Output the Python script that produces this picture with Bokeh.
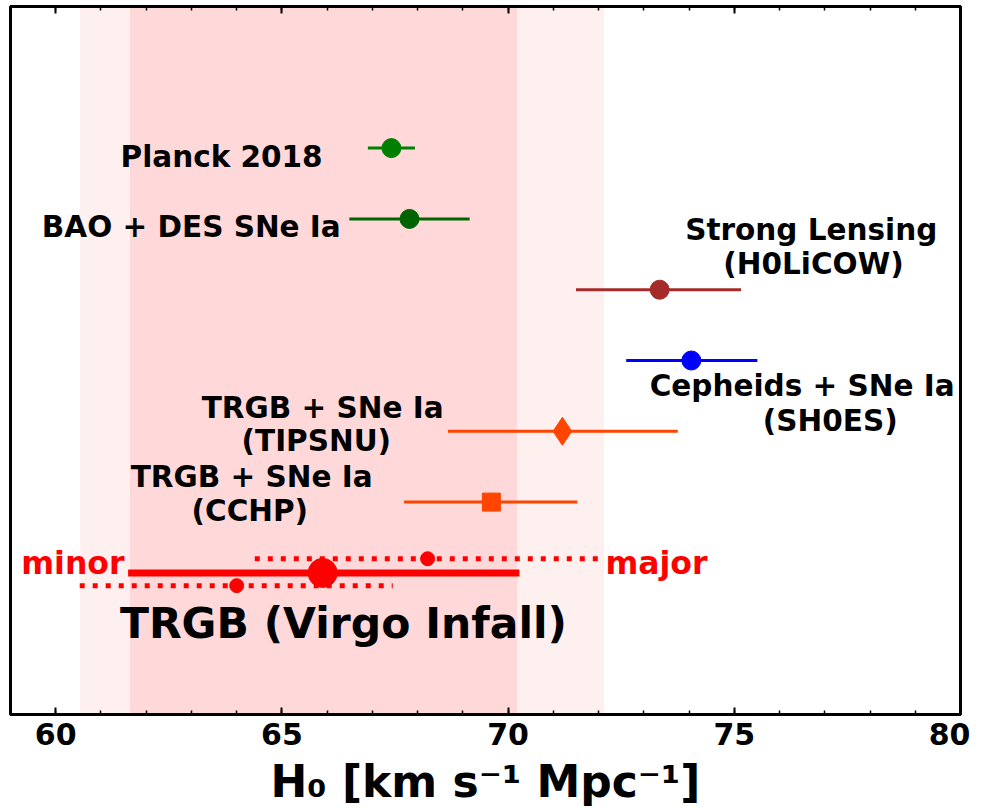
from bokeh.plotting import figure
from bokeh.models import (Range1d, LinearAxis, BoxAnnotation, SingleIntervalTicker, ColumnDataSource,
                          CustomJSTickFormatter)
from bokeh.core.properties import value
from bokeh.embed import file_html
from bokeh.resources import INLINE

FONT = "DejaVu Sans"

# ---- data ----
names = ["Planck 2018", "BAO + DES SNe Ia", "Strong Lensing (H0LiCOW)", "Cepheids + SNe Ia (SH0ES)",
         "TRGB + SNe Ia (TIPSNU)", "TRGB + SNe Ia (CCHP)", "TRGB (Virgo Infall)"]
h0 = [67.42, 67.82, 73.35, 74.05, 71.2, 69.63, 65.9]
err_lo = [0.52, 1.33, 1.85, 1.44, 2.53, 1.93, 4.3]
err_hi = [0.52, 1.33, 1.8, 1.46, 2.55, 1.9, 4.35]
ypos = [8, 7, 6, 5, 4, 3, 2]
colors = ["green", "darkgreen", "brown", "blue", "orangered", "orangered", "red"]
markers = ["circle", "circle", "circle", "circle", "diamond", "square", "circle"]

# minor / major axis sub-estimates
sub_names = ["major", "minor"]
sub_h0 = [68.22, 64.0]
sub_lo = [3.82, 3.47]
sub_hi = [3.9, 3.45]
sub_y = [2.2, 1.82]

# shaded bands
band_outer = [60.54, 72.12]
band_inner = [61.64, 70.2]

# labels
lab_text = ["Planck 2018", "BAO + DES SNe Ia", "Strong Lensing", "(H0LiCOW)",
            "Cepheids + SNe Ia", "(SH0ES)", "TRGB + SNe Ia", "(TIPSNU)",
            "TRGB + SNe Ia", "(CCHP)"]
lab_x = [65.9, 66.3, 76.7, 76.75, 76.5, 77.12, 65.9, 65.76, 64.33, 64.29]
lab_y = [7.88, 6.88, 6.85, 6.36, 4.64, 4.15, 4.33, 3.86, 3.35, 2.87]
lab_align = ["right", "right", "center", "center", "center", "center", "center", "center", "center", "center"]

x_ticks = [60, 65, 70, 75, 80]
x_label = "H\u2080 [km s\u207b\u00b9 Mpc\u207b\u00b9]"

p = figure(width=970, height=809, x_range=Range1d(59, 80), y_range=Range1d(0, 10),
           output_backend="svg", toolbar_location=None, min_border_left=10, min_border_right=10,
           min_border_top=6, min_border_bottom=93, x_axis_location="below")
p.grid.visible = False
p.yaxis.visible = False
p.background_fill_color = "white"
p.outline_line_color = "black"
p.outline_line_width = 3

# bands
p.add_layout(BoxAnnotation(left=band_outer[0], right=band_outer[1], fill_color="#FFF0F0", fill_alpha=1.0,
                           line_color=None, level="underlay"))
p.add_layout(BoxAnnotation(left=band_inner[0], right=band_inner[1], fill_color="#FFD9D9", fill_alpha=1.0,
                           line_color=None, level="underlay"))

# error bars
for i in range(len(names)):
    lw = 7 if i == 6 else 3
    p.segment(x0=[h0[i] - err_lo[i]], x1=[h0[i] + err_hi[i]], y0=[ypos[i]], y1=[ypos[i]],
              line_color=colors[i], line_width=lw)
    size = 19
    if markers[i] == "diamond":
        size = 28
    elif markers[i] == "square":
        size = 18
    elif i == 6:
        size = 29
    p.scatter(x=[h0[i]], y=[ypos[i]], marker=markers[i], size=size, fill_color=colors[i],
              line_color=colors[i])

for i in range(len(sub_names)):
    p.segment(x0=[sub_h0[i] - sub_lo[i]], x1=[sub_h0[i] + sub_hi[i]], y0=[sub_y[i]], y1=[sub_y[i]],
              line_color="red", line_width=5, line_dash="5 8")
    p.scatter(x=[sub_h0[i]], y=[sub_y[i]], marker="circle", size=14, fill_color="red", line_color="red")

src = ColumnDataSource(dict(x=lab_x, y=lab_y, t=lab_text, a=lab_align))
p.text(x="x", y="y", text="t", text_align="a", text_baseline="middle", source=src,
       text_font=value(FONT), text_font_style="bold", text_font_size="29.5px", text_color="black")

p.text(x=[61.52], y=[2.14], text=["minor"], text_align="right", text_baseline="middle",
       text_font=value(FONT), text_font_style="bold", text_font_size="31.5px", text_color="red")
p.text(x=[72.15], y=[2.14], text=["major"], text_align="left", text_baseline="middle",
       text_font=value(FONT), text_font_style="bold", text_font_size="31.5px", text_color="red")
p.text(x=[66.36], y=[1.29], text=["TRGB (Virgo Infall)"], text_align="center", text_baseline="middle",
       text_font=value(FONT), text_font_style="bold", text_font_size="42.5px", text_color="black")

# axes
ticker = SingleIntervalTicker(interval=5, num_minor_ticks=5)
xa = p.xaxis[0]
xa.ticker = ticker
xa.axis_label = x_label
xa.axis_label_text_font = FONT
xa.axis_label_text_font_style = "bold"
xa.axis_label_text_font_size = "44px"
xa.axis_label_text_color = "black"
xa.axis_label_standoff = 8
xa.major_label_text_font = FONT
xa.major_label_text_font_style = "bold"
xa.major_label_text_font_size = "30px"
xa.major_label_text_color = "black"
xa.major_label_standoff = 8
xa.axis_line_width = 3
xa.major_tick_in = 7
xa.major_tick_out = 0
xa.minor_tick_in = 4
xa.minor_tick_out = 0
xa.major_tick_line_color = "black"
xa.minor_tick_line_color = "black"
xa.major_tick_line_width = 2
xa.minor_tick_line_width = 1.5

top = LinearAxis(ticker=ticker, formatter=CustomJSTickFormatter(code="return ''"),
                 axis_line_width=3, major_label_standoff=0, major_label_text_font_size="1px",
                 major_tick_in=7, major_tick_out=0, minor_tick_in=4, minor_tick_out=0,
                 major_tick_line_color="black", minor_tick_line_color="black",
                 major_tick_line_width=2, minor_tick_line_width=1.5)
p.add_layout(top, "above")

open("out.html", "w").write(file_html(p, INLINE))
